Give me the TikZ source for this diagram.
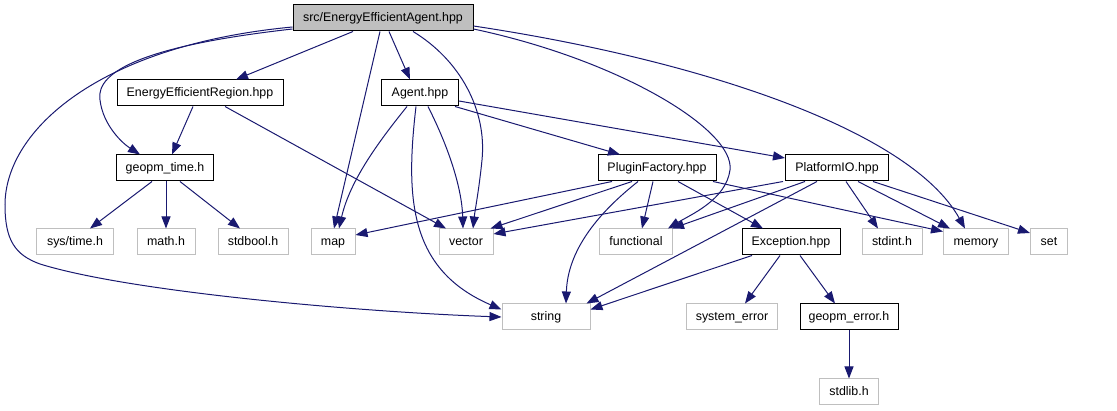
\documentclass[tikz,border=0pt]{standalone}
\usepackage{fontspec}
\setmainfont{Liberation Sans}
\usetikzlibrary{arrows.meta}
\definecolor{edgeblue}{HTML}{191970}
\definecolor{sysgray}{HTML}{BFBFBF}
\begin{document}
\begin{tikzpicture}[x=1pt,y=-1pt,
    lbl/.style={font=\fontsize{12.4}{14}\selectfont,text height=9pt,text depth=2.5pt},
    hdr/.style={draw=black,line width=1pt,fill=white,minimum height=26pt,inner sep=0pt,lbl},
    top/.style={hdr,fill=sysgray},
    sys/.style={draw=sysgray,line width=1pt,fill=white,minimum height=26pt,inner sep=0pt,lbl},
    dep/.style={draw=edgeblue,line width=1pt,-{Triangle[length=12pt,width=9pt]},edgeblue}
]
\useasboundingbox (0,0) rectangle (1117,411);

% headers of the project
\node[top,minimum width=180pt] (root) at (383,18) {src/EnergyEfficientAgent.hpp};
\node[hdr,minimum width=166pt] (eer) at (200,93) {EnergyEfficientRegion.hpp};
\node[hdr,minimum width=77pt] (agent) at (420,93) {Agent.hpp};
\node[hdr,minimum width=97pt] (gtime) at (165,168) {geopm\_time.h};
\node[hdr,minimum width=118pt] (pfac) at (657,168) {PluginFactory.hpp};
\node[hdr,minimum width=103pt] (pio) at (837,168) {PlatformIO.hpp};
\node[hdr,minimum width=98pt] (exc) at (791,242) {Exception.hpp};
\node[hdr,minimum width=98pt] (gerr) at (849,317) {geopm\_error.h};

% system headers
\node[sys,minimum width=77pt] (systime) at (75,242) {sys/time.h};
\node[sys,minimum width=58pt] (math) at (166,242) {math.h};
\node[sys,minimum width=70pt] (stdbool) at (253,242) {stdbool.h};
\node[sys,minimum width=44pt] (map) at (333,242) {map};
\node[sys,minimum width=54pt] (vector) at (466,242) {vector};
\node[sys,minimum width=73pt] (func) at (636,242) {functional};
\node[sys,minimum width=60pt] (stdint) at (892,242) {stdint.h};
\node[sys,minimum width=65pt] (memory) at (976,242) {memory};
\node[sys,minimum width=37pt] (set) at (1049,242) {set};
\node[sys,minimum width=88pt] (string) at (546,317) {string};
\node[sys,minimum width=91pt] (syserr) at (732,317) {system\_error};
\node[sys,minimum width=59pt] (stdlib) at (849,392) {stdlib.h};

% src/EnergyEfficientAgent.hpp
\draw[dep] ([yshift=-9pt]root.west) .. controls (100,45) and (5,130) .. (5,205)
    .. controls (5,240) and (15,255) .. (40,264)
    .. controls (130,292) and (360,312) .. (string.west);
\draw[dep] ([yshift=-11pt]root.west) .. controls (150,45) and (95,70) .. (100,100)
    .. controls (103,125) and (122,143) .. ([xshift=-25pt]gtime.north);
\draw[dep] ([xshift=-30pt]root.south) -- ([xshift=36pt]eer.north);
\draw[dep] ([xshift=6pt]root.south) -- ([xshift=-10pt]agent.north);
\draw[dep] ([xshift=-3pt]root.south) -- ([xshift=1pt]map.north);
\draw[dep] ([xshift=30pt]root.south) .. controls (460,60) and (487,110) .. (482,160)
    .. controls (479,190) and (475,210) .. ([xshift=7pt]vector.north);
\draw[dep] ([yshift=-11pt]root.east) .. controls (620,60) and (735,130) .. (730,170)
    .. controls (726,200) and (690,215) .. ([xshift=-5pt]func.north east);
\draw[dep] ([yshift=-8pt]root.east) .. controls (700,60) and (910,130) .. ([xshift=-11pt]memory.north);

% EnergyEfficientRegion.hpp
\draw[dep] ([xshift=-7pt]eer.south) -- ([xshift=7pt]gtime.north);
\draw[dep] ([xshift=25pt]eer.south) -- ([xshift=-20pt]vector.north);

% geopm_time.h
\draw[dep] ([xshift=-13pt]gtime.south) -- ([xshift=15pt]systime.north);
\draw[dep] ([xshift=1pt]gtime.south) -- (math.north);
\draw[dep] ([xshift=15pt]gtime.south) -- ([xshift=-13pt]stdbool.north);

% Agent.hpp
\draw[dep] ([xshift=-13pt]agent.south) .. controls (380,140) and (350,180) .. ([xshift=6pt]map.north);
\draw[dep] ([xshift=-4pt]agent.south) .. controls (405,200) and (410,270) .. ([yshift=-6pt]string.north west);
\draw[dep] ([xshift=8pt]agent.south) .. controls (450,150) and (462,190) .. ([xshift=-3pt]vector.north);
\draw[dep] ([xshift=35pt]agent.south) -- ([xshift=-37pt]pfac.north);
\draw[dep] ([yshift=-8pt]agent.east) -- ([yshift=10pt]pio.west);

% PluginFactory.hpp
\draw[dep] ([xshift=-45pt]pfac.south) -- ([yshift=7pt]map.east);
\draw[dep] ([xshift=-25pt]pfac.south) -- ([xshift=-3pt]vector.north east);
\draw[dep] ([xshift=-19pt]pfac.south) .. controls (615,200) and (568,240) .. ([xshift=20pt]string.north);
\draw[dep] ([xshift=-4pt]pfac.south) -- ([xshift=6pt]func.north);
\draw[dep] ([xshift=21pt]pfac.south) -- ([xshift=-28pt]exc.north);
\draw[dep] ([xshift=56pt]pfac.south) -- ([yshift=-3pt]memory.north west);

% PlatformIO.hpp
\draw[dep] ([xshift=-54pt]pio.south) -- ([yshift=8pt]vector.east);
\draw[dep] ([xshift=-32pt]pio.south) -- ([xshift=-1pt]func.north east);
\draw[dep] ([xshift=-20pt]pio.south) -- ([xshift=-4pt]string.north east);
\draw[dep] ([xshift=9pt]pio.south) -- ([xshift=-14pt]stdint.north);
\draw[dep] ([xshift=21pt]pio.south) -- ([xshift=-26pt]memory.north);
\draw[dep] ([xshift=36pt]pio.south) -- ([yshift=9pt]set.west);

% Exception.hpp
\draw[dep] ([xshift=-39pt]exc.south) -- ([yshift=-6pt]string.north east);
\draw[dep] ([xshift=-11pt]exc.south) -- ([xshift=13pt]syserr.north);
\draw[dep] ([xshift=9pt]exc.south) -- ([xshift=-14pt]gerr.north);

% geopm_error.h
\draw[dep] (gerr.south) -- (stdlib.north);

\end{tikzpicture}
\end{document}
